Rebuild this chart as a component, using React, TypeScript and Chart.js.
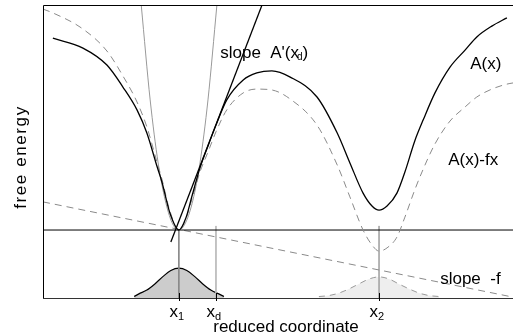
import React, { useEffect, useRef } from 'react';
import { Chart, registerables } from 'chart.js';

Chart.register(...registerables);

// ---- data (reduced coordinate, free energy), arbitrary units ----
const X1 = 2.89;
const XD = 3.68;
const X2 = 7.15;
const BASE_LEVEL = 2.32;

// A(x)
const aX = [0.21, 0.85, 1.36, 1.70, 2.00, 2.21, 2.43, 2.53, 2.70, 2.89, 3.04, 3.17, 3.34, 3.51, 3.68, 3.91, 4.26, 4.55, 4.87, 5.26, 5.83, 6.26, 6.53, 6.81, 7.00, 7.15, 7.32, 7.53, 7.70, 7.91, 8.09, 8.34, 8.66, 8.98, 9.23, 9.55, 9.87];
const aY = [8.87, 8.53, 7.95, 7.20, 6.42, 5.63, 4.47, 3.96, 2.90, 2.32, 2.73, 3.48, 4.44, 5.19, 5.90, 6.76, 7.44, 7.68, 7.75, 7.54, 6.86, 5.63, 4.61, 3.58, 3.14, 3.00, 3.14, 3.58, 4.30, 5.36, 6.08, 7.00, 7.88, 8.46, 8.91, 9.28, 9.56];

// A(x) - f x
const afX = [0, 0.21, 0.85, 1.36, 1.70, 2.00, 2.21, 2.43, 2.53, 2.70, 2.89, 3.04, 3.17, 3.34, 3.51, 3.68, 3.91, 4.26, 4.55, 4.87, 5.26, 5.83, 6.26, 6.53, 6.81, 7.00, 7.15, 7.32, 7.53, 7.70, 7.91, 8.09, 8.34, 8.66, 8.98, 9.23, 9.55, 9.87, 10.0];
const afY = [9.86, 9.73, 9.18, 8.43, 7.58, 6.69, 5.84, 4.61, 4.06, 2.97, 2.32, 2.70, 3.38, 4.30, 4.98, 5.67, 6.42, 7.00, 7.13, 7.10, 6.79, 5.90, 4.54, 3.45, 2.32, 1.81, 1.60, 1.71, 2.08, 2.76, 3.69, 4.40, 5.26, 6.04, 6.52, 6.86, 7.13, 7.30, 7.34];

// harmonic approximation around x1
const harmX = [2.09, 2.28, 2.45, 2.60, 2.74, 2.89, 3.04, 3.19, 3.34, 3.51, 3.70];
const harmY = [10.0, 6.76, 4.61, 3.34, 2.59, 2.32, 2.59, 3.34, 4.61, 6.76, 10.0];

// tangent with slope A'(xd)
const tanX = [2.72, 4.66];
const tanY = [1.91, 10.0];

// line with slope -f
const sfX = [0, 10];
const sfY = [3.28, 0.03];

// distributions
const g1X = [1.94, 2.04, 2.21, 2.38, 2.55, 2.72, 2.89, 3.06, 3.23, 3.40, 3.57, 3.74, 3.85];
const g1Y = [0.05, 0.14, 0.27, 0.48, 0.73, 0.94, 1.02, 0.94, 0.73, 0.48, 0.27, 0.14, 0.05];
const g2X = [5.87, 6.09, 6.30, 6.51, 6.72, 6.94, 7.15, 7.36, 7.57, 7.79, 8.00, 8.21, 8.43];
const g2Y = [0.05, 0.085, 0.17, 0.31, 0.48, 0.65, 0.72, 0.65, 0.48, 0.31, 0.17, 0.085, 0.05];

// vertical marker tops
const vX = [X1, XD, X2];
const vTop = [2.32, 2.46, 2.46];

// tick labels
const tickVals = [X1, XD, X2];
const tickSubs = ['1', 'd', '2'];

const FONT = "'Liberation Sans', Arial, Helvetica, sans-serif";

function pts(xs: number[], ys: number[]) {
  return xs.map((x, i) => ({ x, y: ys[i] }));
}

const annotPlugin = {
  id: 'annot',
  afterDraw(chart: any) {
    const { ctx, chartArea: ca } = chart;
    const xs = chart.scales.x;
    const ys = chart.scales.y;
    ctx.save();
    // frame
    ctx.lineWidth = 1;
    ctx.strokeStyle = '#000';
    ctx.beginPath();
    ctx.moveTo(ca.left + 0.5, ca.bottom);
    ctx.lineTo(ca.left + 0.5, ca.top + 0.5);
    ctx.lineTo(ca.right, ca.top + 0.5);
    ctx.stroke();
    ctx.strokeStyle = '#333';
    ctx.beginPath();
    ctx.moveTo(ca.left, ca.bottom + 0.5);
    ctx.lineTo(ca.right, ca.bottom + 0.5);
    ctx.stroke();

    // ticks + labels
    ctx.fillStyle = '#000';
    ctx.textBaseline = 'alphabetic';
    tickVals.forEach((v, i) => {
      const px = Math.round(xs.getPixelForValue(v)) + 0.5;
      ctx.strokeStyle = '#000';
      ctx.beginPath();
      ctx.moveTo(px, ca.bottom - 5);
      ctx.lineTo(px, ca.bottom + 3);
      ctx.stroke();
      ctx.font = `17px ${FONT}`;
      ctx.textAlign = 'left';
      const left = px - 10;
      ctx.fillText('x', left, ca.bottom + 19);
      const w = ctx.measureText('x').width;
      ctx.font = `11px ${FONT}`;
      ctx.fillText(tickSubs[i], left + w, ca.bottom + 22);
    });

    // axis titles
    ctx.font = `17px ${FONT}`;
    ctx.textAlign = 'center';
    ctx.fillText('reduced coordinate', xs.getPixelForValue(5.17), ca.bottom + 34);
    ctx.save();
    ctx.translate(ca.left - 22, ys.getPixelForValue(4.81));
    ctx.rotate(-Math.PI / 2);
    (ctx as any).letterSpacing = '1.6px';
    ctx.textBaseline = 'middle';
    ctx.fillText('free energy', 0, 0);
    ctx.restore();

    // annotations
    ctx.font = `17px ${FONT}`;
    ctx.textAlign = 'left';
    ctx.textBaseline = 'alphabetic';
    let tx = xs.getPixelForValue(3.77);
    const ty = ys.getPixelForValue(8.19);
    const s1 = "slope  A'(x";
    ctx.fillText(s1, tx, ty);
    tx += ctx.measureText(s1).width;
    ctx.font = `10px ${FONT}`;
    ctx.fillText('d', tx - 2, ty + 2);
    tx += ctx.measureText('d').width - 2;
    ctx.font = `17px ${FONT}`;
    ctx.fillText(')', tx, ty);

    ctx.fillText('A(x)', xs.getPixelForValue(9.09), ys.getPixelForValue(7.82));
    ctx.fillText('A(x)-fx', xs.getPixelForValue(8.62), ys.getPixelForValue(4.54));
    ctx.fillText('slope  -f', xs.getPixelForValue(8.45), ys.getPixelForValue(0.48));
    ctx.restore();
  },
};

export default function App() {
  const ref = useRef<HTMLCanvasElement | null>(null);
  useEffect(() => {
    if (!ref.current) return;
    const line = (data: any[], extra: any) => ({
      data,
      pointRadius: 0,
      fill: false,
      borderWidth: 1,
      ...extra,
    });
    const datasets: any[] = [
      line(pts(aX, aY), { borderColor: '#000', borderWidth: 1.3, cubicInterpolationMode: 'monotone' }),
      line(pts(tanX, tanY), { borderColor: '#000', borderWidth: 1.3, tension: 0 }),
      line(pts(afX, afY), { borderColor: '#8a8a8a', borderDash: [7, 5], cubicInterpolationMode: 'monotone' }),
      line(pts(harmX, harmY), { borderColor: '#999', cubicInterpolationMode: 'monotone' }),
      line(pts([0, 10], [BASE_LEVEL, BASE_LEVEL]), { borderColor: '#000', tension: 0 }),
      line(pts(sfX, sfY), { borderColor: '#8a8a8a', borderDash: [7, 5], tension: 0 }),
      line(pts([vX[0], vX[0]], [vTop[0], 0]), { borderColor: '#888', tension: 0 }),
      line(pts([vX[1], vX[1]], [vTop[1], 0]), { borderColor: '#bbb', tension: 0 }),
      line(pts([vX[2], vX[2]], [vTop[2], 0]), { borderColor: '#aaa', tension: 0 }),
      line(pts(g1X, g1Y), { borderColor: '#000', borderWidth: 1.2, backgroundColor: '#cccccc', fill: 'origin', cubicInterpolationMode: 'monotone' }),
      line(pts(g2X, g2Y), { borderColor: '#999', borderDash: [6, 5], backgroundColor: '#eeeeee', fill: 'origin', cubicInterpolationMode: 'monotone' }),
    ];
    const chart = new Chart(ref.current, {
      type: 'line',
      data: { datasets },
      options: {
        responsive: false,
        maintainAspectRatio: false,
        animation: false,
        devicePixelRatio: 1,
        layout: { padding: { left: 43, top: 5, right: 0, bottom: 36 } },
        scales: {
          x: { type: 'linear', min: 0, max: 10, display: false },
          y: { type: 'linear', min: 0, max: 10, display: false },
        },
        plugins: { legend: { display: false }, tooltip: { enabled: false } },
        events: [],
      },
      plugins: [annotPlugin],
    } as any);
    return () => chart.destroy();
  }, []);
  return (
    <div style={{ position: 'fixed', left: 0, top: 0, width: 513, height: 334, background: '#fff' }}>
      <canvas ref={ref} width={513} height={334} style={{ display: 'block', width: 513, height: 334 }} />
    </div>
  );
}
